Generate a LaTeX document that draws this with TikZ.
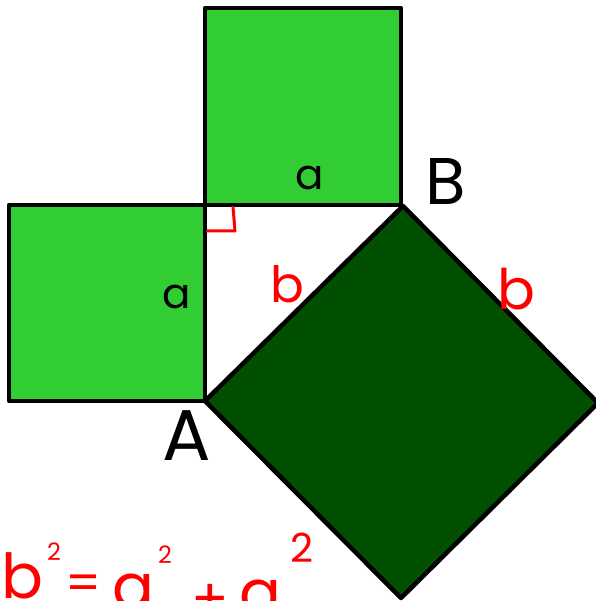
\documentclass[tikz,border=0pt]{standalone}
\usepackage{fontspec}
\setmainfont{Poppins}
\definecolor{hijaumuda}{RGB}{50,205,50}
\definecolor{hijautua}{RGB}{0,80,0}
\definecolor{merah}{RGB}{255,0,0}
\begin{document}
\begin{tikzpicture}[x=1pt,y=-1pt,line join=round,
    persegi/.style={draw,line width=4.5pt},
    huruf/.style={font=\fontsize{#1}{#1}\selectfont,anchor=base,inner sep=0pt}]
  \useasboundingbox (0,0) rectangle (595,601);
  % Titik sudut segitiga
  \coordinate (siku) at (205,205);
  \coordinate (A) at (205,401);
  \coordinate (B) at (403,206);
  % Persegi pada kedua sisi a
  \draw[persegi,fill=hijaumuda] (9,205) rectangle (A);
  \draw[persegi,fill=hijaumuda] (205,8) rectangle (401,205);
  % Persegi pada sisi miring b
  \draw[persegi,fill=hijautua] (A) -- (B) -- ++(195,197) -- ++(-197,195) -- cycle;
  % Tanda sudut siku-siku
  \draw[merah,line width=3pt,line cap=round] (207,231) -- (235,231) -- (233,207);
  % Label sisi dan titik
  \node[huruf=42] (sisiatas) at (310,190) {a};
  \node[huruf=42] (sisikiri) at (177,308) {a};
  \node[huruf=50,text=merah] (miring) at (287,302) {b};
  \node[huruf=56,text=merah] (miringluar) at (516,309) {b};
  \node[huruf=66] (titikB) at (446,205) {B};
  \node[huruf=72] (titikA) at (187,460) {A};
  % Rumus di bawah
  \foreach \x/\y/\s/\t [count=\i] in {22/598/62/b, 54/560/24/2, 84/600/50/=,
      133/608/62/a, 165/563/24/2, 210/618/55/+, 260/614/62/a, 302/562/40/2}
    \node[huruf=\s,text=merah] (rumus\i) at (\x,\y) {\t};
\end{tikzpicture}
\end{document}
